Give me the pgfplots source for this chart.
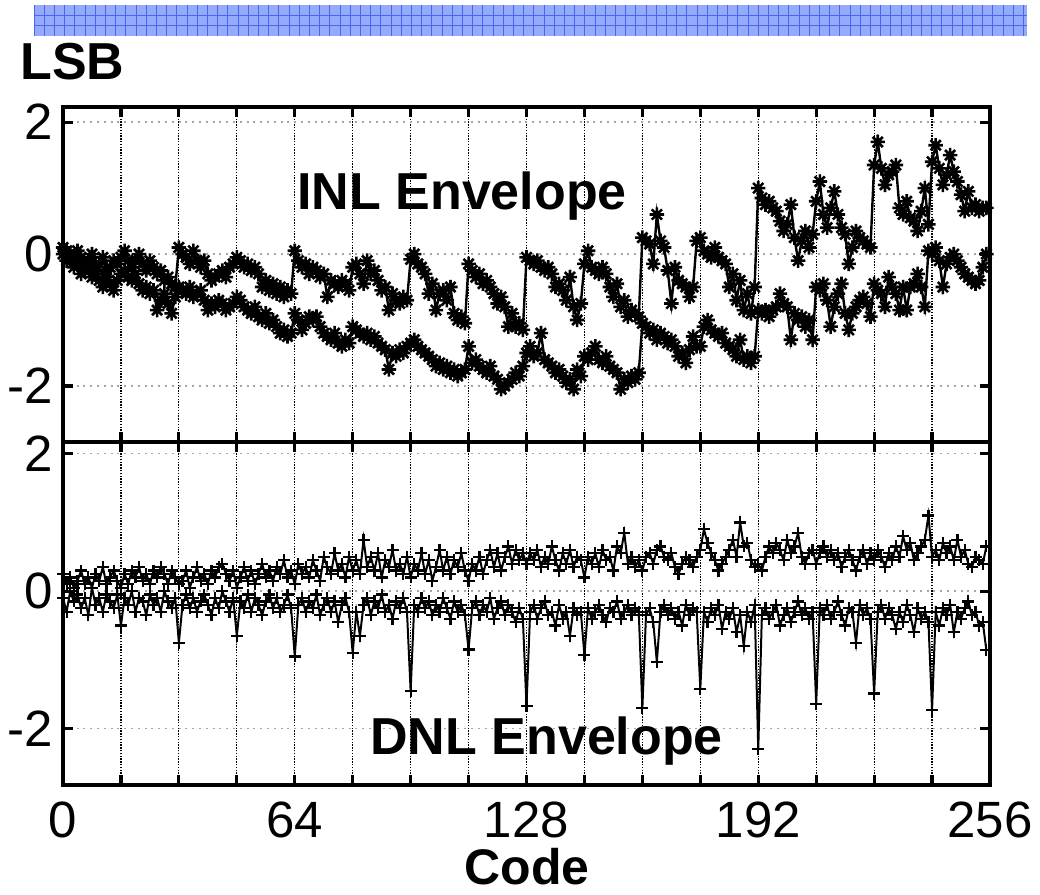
\documentclass[border=0pt]{standalone}
\usepackage{pgfplots}
\pgfplotsset{compat=1.18}
\usepackage{pgfplotstable}
\usepackage{fontspec}
\setmainfont{Liberation Sans}
\definecolor{barfill}{RGB}{150,170,250}
\definecolor{barline}{RGB}{70,100,245}
\tikzset{axframe/.style={line width=2.4pt, black}}
\pgfdeclareplotmark{mstar}{%
  \pgfpathmoveto{\pgfqpoint{-\pgfplotmarksize}{0pt}}\pgfpathlineto{\pgfqpoint{\pgfplotmarksize}{0pt}}%
  \pgfpathmoveto{\pgfqpoint{0pt}{-\pgfplotmarksize}}\pgfpathlineto{\pgfqpoint{0pt}{\pgfplotmarksize}}%
  \pgfpathmoveto{\pgfqpoint{-.707\pgfplotmarksize}{-.707\pgfplotmarksize}}\pgfpathlineto{\pgfqpoint{.707\pgfplotmarksize}{.707\pgfplotmarksize}}%
  \pgfpathmoveto{\pgfqpoint{-.707\pgfplotmarksize}{.707\pgfplotmarksize}}\pgfpathlineto{\pgfqpoint{.707\pgfplotmarksize}{-.707\pgfplotmarksize}}%
  \pgfusepathqstroke}

% INL, upper trace (codes 0..255)
\pgfplotstableread[row sep=\\]{v\\
0.1\\0.05\\0.0\\-0.1\\0.05\\-0.05\\-0.15\\-0.1\\0.0\\-0.2\\-0.15\\-0.05\\-0.25\\-0.2\\-0.1\\-0.15\\
-0.05\\0.05\\-0.1\\-0.2\\-0.1\\0.0\\-0.15\\-0.25\\-0.1\\-0.2\\-0.3\\-0.25\\-0.4\\-0.35\\-0.45\\-0.5\\
0.1\\0.0\\-0.05\\-0.15\\0.05\\-0.1\\-0.2\\-0.1\\-0.3\\-0.4\\-0.35\\-0.3\\-0.25\\-0.35\\-0.2\\-0.15\\
-0.05\\-0.1\\-0.2\\-0.15\\-0.25\\-0.2\\-0.3\\-0.5\\-0.4\\-0.55\\-0.45\\-0.6\\-0.5\\-0.65\\-0.55\\-0.6\\
0.05\\-0.1\\-0.2\\-0.15\\-0.3\\-0.2\\-0.25\\-0.35\\-0.3\\-0.65\\-0.4\\-0.45\\-0.5\\-0.4\\-0.45\\-0.55\\
-0.2\\-0.15\\-0.3\\-0.45\\-0.1\\-0.3\\-0.25\\-0.4\\-0.55\\-0.5\\-0.85\\-0.6\\-0.7\\-0.75\\-0.65\\-0.7\\
-0.08\\0.0\\-0.15\\-0.2\\-0.3\\-0.6\\-0.45\\-0.85\\-0.6\\-0.55\\-0.7\\-0.5\\-0.9\\-1.0\\-0.95\\-1.05\\
-0.15\\-0.25\\-0.35\\-0.3\\-0.45\\-0.4\\-0.5\\-0.6\\-0.75\\-0.65\\-0.8\\-1.1\\-0.9\\-1.1\\-1.05\\-1.15\\
-0.05\\-0.1\\-0.15\\-0.1\\-0.2\\-0.25\\-0.2\\-0.3\\-0.5\\-0.45\\-0.55\\-0.7\\-0.35\\-0.8\\-1.0\\-0.75\\
-0.15\\0.05\\-0.2\\-0.25\\-0.3\\-0.2\\-0.3\\-0.5\\-0.65\\-0.45\\-0.8\\-0.7\\-0.95\\-0.85\\-0.9\\-0.95\\
0.25\\0.2\\0.15\\-0.15\\0.6\\0.2\\0.1\\-0.25\\-0.75\\-0.2\\-0.4\\-0.45\\-0.5\\-0.65\\-0.5\\0.2\\
0.25\\0.05\\0.0\\-0.05\\0.1\\-0.05\\-0.1\\-0.15\\-0.5\\-0.3\\-0.7\\-0.4\\-0.85\\-0.6\\-0.9\\-0.5\\
1.0\\0.85\\0.75\\0.8\\0.7\\0.65\\0.5\\0.35\\0.45\\0.75\\0.25\\-0.1\\0.2\\0.35\\0.1\\0.3\\
0.8\\1.1\\0.6\\0.4\\0.7\\0.95\\0.6\\0.4\\0.3\\-0.15\\0.1\\0.35\\0.25\\0.2\\0.15\\0.1\\
1.35\\1.7\\1.3\\1.05\\1.2\\1.25\\1.35\\0.7\\0.6\\0.8\\0.55\\0.5\\0.35\\0.65\\1.0\\0.45\\
1.4\\1.65\\1.3\\1.05\\1.2\\1.5\\1.25\\1.1\\0.9\\0.65\\0.95\\0.7\\0.75\\0.65\\0.7\\0.7\\
}\inlA

% INL, lower trace
\pgfplotstableread[row sep=\\]{v\\
0.0\\-0.1\\-0.05\\-0.2\\-0.15\\-0.3\\-0.25\\-0.2\\-0.35\\-0.3\\-0.4\\-0.5\\-0.35\\-0.45\\-0.55\\-0.4\\
-0.3\\-0.25\\-0.35\\-0.4\\-0.3\\-0.45\\-0.55\\-0.5\\-0.6\\-0.55\\-0.85\\-0.7\\-0.6\\-0.75\\-0.9\\-0.65\\
-0.5\\-0.55\\-0.6\\-0.5\\-0.65\\-0.6\\-0.55\\-0.7\\-0.85\\-0.75\\-0.8\\-0.7\\-0.75\\-0.85\\-0.8\\-0.75\\
-0.65\\-0.7\\-0.8\\-0.85\\-0.9\\-0.8\\-0.95\\-1.0\\-0.9\\-1.05\\-1.0\\-1.1\\-1.2\\-1.15\\-1.25\\-1.2\\
-0.9\\-1.0\\-1.15\\-1.05\\-0.95\\-1.0\\-0.95\\-1.1\\-1.2\\-1.25\\-1.3\\-1.2\\-1.35\\-1.4\\-1.3\\-1.35\\
-1.1\\-1.15\\-1.2\\-1.25\\-1.2\\-1.3\\-1.25\\-1.35\\-1.4\\-1.45\\-1.75\\-1.5\\-1.55\\-1.45\\-1.5\\-1.4\\
-1.35\\-1.3\\-1.4\\-1.45\\-1.5\\-1.55\\-1.6\\-1.7\\-1.65\\-1.75\\-1.7\\-1.8\\-1.75\\-1.85\\-1.8\\-1.75\\
-1.4\\-1.65\\-1.6\\-1.7\\-1.75\\-1.8\\-1.7\\-1.85\\-1.9\\-2.05\\-2.0\\-1.95\\-1.9\\-1.8\\-1.85\\-1.7\\
-1.5\\-1.4\\-1.55\\-1.5\\-1.2\\-1.6\\-1.65\\-1.7\\-1.8\\-1.75\\-1.85\\-1.95\\-1.9\\-2.05\\-1.75\\-1.85\\
-1.55\\-1.6\\-1.5\\-1.4\\-1.6\\-1.65\\-1.55\\-1.7\\-1.75\\-1.8\\-2.05\\-1.9\\-1.95\\-1.85\\-1.9\\-1.8\\
-1.05\\-1.1\\-1.2\\-1.15\\-1.3\\-1.2\\-1.25\\-1.35\\-1.3\\-1.4\\-1.55\\-1.5\\-1.65\\-1.45\\-1.25\\-1.4\\
-1.4\\-1.1\\-1.0\\-1.15\\-1.2\\-1.25\\-1.2\\-1.35\\-1.4\\-1.45\\-1.55\\-1.3\\-1.6\\-1.55\\-1.65\\-1.55\\
-0.85\\-0.9\\-0.85\\-0.95\\-0.85\\-0.8\\-0.6\\-0.75\\-0.8\\-1.3\\-0.9\\-1.0\\-0.95\\-1.1\\-1.0\\-1.3\\
-0.5\\-0.55\\-0.45\\-0.7\\-1.1\\-0.8\\-0.6\\-0.45\\-0.9\\-1.15\\-0.9\\-0.8\\-0.7\\-0.65\\-0.75\\-0.95\\
-0.45\\-0.55\\-0.6\\-0.8\\-0.35\\-0.5\\-0.6\\-0.85\\-0.5\\-0.85\\-0.5\\-0.45\\-0.3\\-0.5\\-0.8\\0.05\\
0.0\\0.1\\-0.1\\-0.5\\-0.15\\-0.05\\0.0\\-0.1\\-0.2\\-0.3\\-0.35\\-0.4\\-0.45\\-0.4\\-0.2\\0.0\\
}\inlB

% DNL, upper trace
\pgfplotstableread[row sep=\\]{v\\
0.25\\0.1\\0.2\\0.05\\0.15\\0.3\\0.1\\0.2\\0.05\\0.25\\0.15\\0.35\\0.1\\0.2\\0.3\\0.15\\
0.05\\0.25\\0.1\\0.3\\0.2\\0.35\\0.15\\0.25\\0.1\\0.3\\0.2\\0.35\\0.25\\0.1\\0.3\\0.2\\
0.1\\0.15\\0.3\\0.05\\0.2\\0.35\\0.15\\0.25\\0.1\\0.3\\0.2\\0.35\\0.4\\0.25\\0.15\\0.3\\
0.05\\0.2\\0.35\\0.15\\0.3\\0.1\\0.25\\0.4\\0.2\\0.3\\0.15\\0.35\\0.25\\0.45\\0.2\\0.3\\
0.1\\0.4\\0.25\\0.35\\0.2\\0.45\\0.3\\0.15\\0.5\\0.35\\0.25\\0.55\\0.3\\0.4\\0.2\\0.5\\
0.3\\0.45\\0.25\\0.75\\0.35\\0.5\\0.3\\0.55\\0.2\\0.45\\0.35\\0.6\\0.3\\0.4\\0.25\\0.5\\
0.2\\0.4\\0.3\\0.55\\0.25\\0.45\\0.15\\0.35\\0.6\\0.3\\0.5\\0.25\\0.45\\0.35\\0.55\\0.3\\
0.15\\0.4\\0.3\\0.5\\0.25\\0.45\\0.6\\0.35\\0.55\\0.3\\0.5\\0.65\\0.4\\0.6\\0.45\\0.55\\
0.4\\0.55\\0.45\\0.6\\0.35\\0.5\\0.4\\0.65\\0.45\\0.3\\0.55\\0.4\\0.6\\0.35\\0.5\\0.45\\
0.2\\0.5\\0.4\\0.55\\0.35\\0.6\\0.45\\0.5\\0.3\\0.65\\0.55\\0.85\\0.4\\0.5\\0.35\\0.45\\
0.3\\0.5\\0.55\\0.4\\0.6\\0.65\\0.5\\0.45\\0.55\\0.35\\0.25\\0.4\\0.5\\0.45\\0.35\\0.5\\
0.6\\0.9\\0.7\\0.55\\0.45\\0.3\\0.4\\0.5\\0.6\\0.75\\0.5\\1.0\\0.65\\0.7\\0.45\\0.35\\
0.4\\0.3\\0.5\\0.65\\0.55\\0.7\\0.6\\0.45\\0.75\\0.55\\0.65\\0.85\\0.5\\0.4\\0.55\\0.6\\
0.4\\0.55\\0.65\\0.5\\0.6\\0.45\\0.55\\0.35\\0.5\\0.6\\0.45\\0.3\\0.5\\0.6\\0.4\\0.55\\
0.45\\0.6\\0.5\\0.35\\0.55\\0.45\\0.65\\0.5\\0.8\\0.6\\0.7\\0.45\\0.55\\0.65\\0.75\\1.1\\
0.5\\0.6\\0.45\\0.7\\0.55\\0.65\\0.45\\0.75\\0.5\\0.6\\0.4\\0.35\\0.5\\0.45\\0.4\\0.65\\
}\dnlA

% DNL, lower trace
\pgfplotstableread[row sep=\\]{v\\
-0.1\\-0.3\\0.0\\-0.15\\-0.05\\-0.25\\-0.1\\-0.35\\0.05\\-0.2\\-0.1\\-0.3\\-0.05\\-0.15\\-0.25\\-0.05\\
-0.5\\-0.1\\-0.2\\0.0\\-0.3\\-0.1\\-0.15\\-0.35\\-0.05\\-0.2\\-0.1\\-0.3\\0.0\\-0.15\\-0.25\\-0.1\\
-0.75\\-0.2\\-0.05\\-0.25\\-0.1\\-0.3\\-0.15\\-0.05\\-0.2\\-0.35\\-0.1\\-0.25\\0.0\\-0.15\\-0.3\\-0.1\\
-0.65\\-0.15\\-0.25\\-0.05\\-0.3\\-0.1\\-0.2\\-0.35\\-0.15\\-0.05\\-0.25\\-0.1\\-0.3\\-0.2\\-0.05\\-0.25\\
-0.95\\-0.2\\-0.1\\-0.3\\-0.15\\-0.25\\-0.05\\-0.35\\-0.2\\-0.1\\-0.3\\-0.15\\-0.45\\-0.2\\-0.1\\-0.3\\
-0.9\\-0.3\\-0.65\\-0.2\\-0.1\\-0.35\\-0.15\\-0.25\\-0.05\\-0.3\\-0.2\\-0.4\\-0.15\\-0.25\\-0.1\\-0.3\\
-1.45\\-0.2\\-0.3\\-0.1\\-0.25\\-0.15\\-0.35\\-0.2\\-0.3\\-0.1\\-0.25\\-0.4\\-0.15\\-0.3\\-0.2\\-0.35\\
-0.85\\-0.25\\-0.15\\-0.35\\-0.2\\-0.3\\-0.1\\-0.4\\-0.25\\-0.15\\-0.35\\-0.2\\-0.3\\-0.45\\-0.25\\-0.4\\
-1.67\\-0.3\\-0.2\\-0.4\\-0.25\\-0.15\\-0.35\\-0.3\\-0.5\\-0.2\\-0.4\\-0.3\\-0.65\\-0.25\\-0.35\\-0.3\\
-0.93\\-0.25\\-0.4\\-0.3\\-0.2\\-0.35\\-0.45\\-0.25\\-0.3\\-0.15\\-0.4\\-0.3\\-0.2\\-0.35\\-0.25\\-0.3\\
-1.7\\-0.35\\-0.25\\-0.45\\-1.03\\-0.3\\-0.2\\-0.35\\-0.25\\-0.4\\-0.3\\-0.5\\-0.2\\-0.35\\-0.25\\-0.3\\
-1.42\\-0.3\\-0.45\\-0.25\\-0.35\\-0.2\\-0.55\\-0.3\\-0.4\\-0.25\\-0.6\\-0.35\\-0.8\\-0.3\\-0.45\\-0.2\\
-2.3\\-0.35\\-0.25\\-0.4\\-0.3\\-0.2\\-0.5\\-0.35\\-0.25\\-0.45\\-0.3\\-0.15\\-0.35\\-0.25\\-0.4\\-0.3\\
-1.64\\-0.25\\-0.35\\-0.2\\-0.4\\-0.3\\-0.15\\-0.35\\-0.5\\-0.25\\-0.3\\-0.75\\-0.2\\-0.35\\-0.25\\-0.4\\
-1.49\\-0.3\\-0.2\\-0.4\\-0.25\\-0.35\\-0.55\\-0.3\\-0.45\\-0.2\\-0.35\\-0.6\\-0.25\\-0.4\\-0.3\\-0.45\\
-1.73\\-0.3\\-0.5\\-0.25\\-0.35\\-0.2\\-0.6\\-0.3\\-0.4\\-0.25\\-0.15\\-0.35\\-0.3\\-0.5\\-0.45\\-0.86\\
}\dnlB

\pgfplotsset{
  lsbaxis/.style={
    anchor=south west, scale only axis, width=463.5pt,
    xmin=0, xmax=256,
    xtick={0,16,...,256}, ytick={-2,0,2}, yticklabels={-2,0,2},
    xmajorgrids, ymajorgrids,
    x grid style={black, line width=0.6pt, dash pattern=on 0.7pt off 0.7pt},
    y grid style={gray!70, line width=0.8pt, dash pattern=on 1pt off 2.4pt},
    axis line style={line width=2pt},
    major tick length=5pt,
    tick style={black, line width=1.6pt},
    tick label style={font=\fontsize{25.5}{30}\selectfont},
    yticklabel style={inner sep=0pt, xshift=-5pt},
    xticklabel style={inner sep=0pt, yshift=-8pt},
    clip mode=individual,
  },
}

\begin{document}
\begin{tikzpicture}[x=1pt,y=1pt]
\useasboundingbox (0,0) rectangle (520,447.5);
% header bar
\fill[barfill] (17,429.5) rectangle (513.5,445);
\foreach \i in {0,...,97} {\draw[barline, line width=0.45pt] ({17+5.1*\i},429.5) -- ++(0,15.5);}
\foreach \j in {434.6,439.7} {\draw[barline, line width=0.45pt] (17,\j) -- (513.5,\j);}

\begin{axis}[lsbaxis, at={(31.5pt,226.5pt)}, height=167.5pt,
  ymin=-2.85, ymax=2.23, xticklabels={}]
\addplot[black, line width=1.2pt, mark=mstar, mark size=3.6pt, mark options={line width=1.3pt, solid}]
  table[x expr=\coordindex, y=v] {\inlA};
\addplot[black, line width=1.2pt, mark=mstar, mark size=3.6pt, mark options={line width=1.3pt, solid}]
  table[x expr=\coordindex, y=v] {\inlB};
\draw[axframe] (rel axis cs:0,0) rectangle (rel axis cs:1,1);
\end{axis}

\begin{axis}[lsbaxis, at={(31.5pt,55pt)}, height=171.5pt,
  ymin=-2.82, ymax=2.17,
  xticklabels={0,,,,64,,,,128,,,,192,,,,256}]
\addplot[black, line width=1pt, mark=+, mark size=3pt, mark options={line width=1.1pt, solid}]
  table[x expr=\coordindex, y=v] {\dnlA};
\addplot[black, line width=1pt, mark=+, mark size=3pt, mark options={line width=1.1pt, solid}]
  table[x expr=\coordindex, y=v] {\dnlB};
\draw[axframe] (rel axis cs:0,0) rectangle (rel axis cs:1,1);
\end{axis}

\node[anchor=base west, inner sep=0pt, font=\bfseries\fontsize{26}{30}\selectfont] at (10,407.5) {LSB};
\node[anchor=base west, inner sep=0pt, font=\bfseries\fontsize{26}{30}\selectfont] at (148.5,342.5) {INL Envelope};
\node[anchor=base west, inner sep=0pt, font=\bfseries\fontsize{26}{30}\selectfont] at (185,70) {DNL Envelope};
\node[anchor=base, inner sep=0pt, font=\bfseries\fontsize{25}{30}\selectfont] at (263.5,5) {Code};
\end{tikzpicture}
\end{document}
